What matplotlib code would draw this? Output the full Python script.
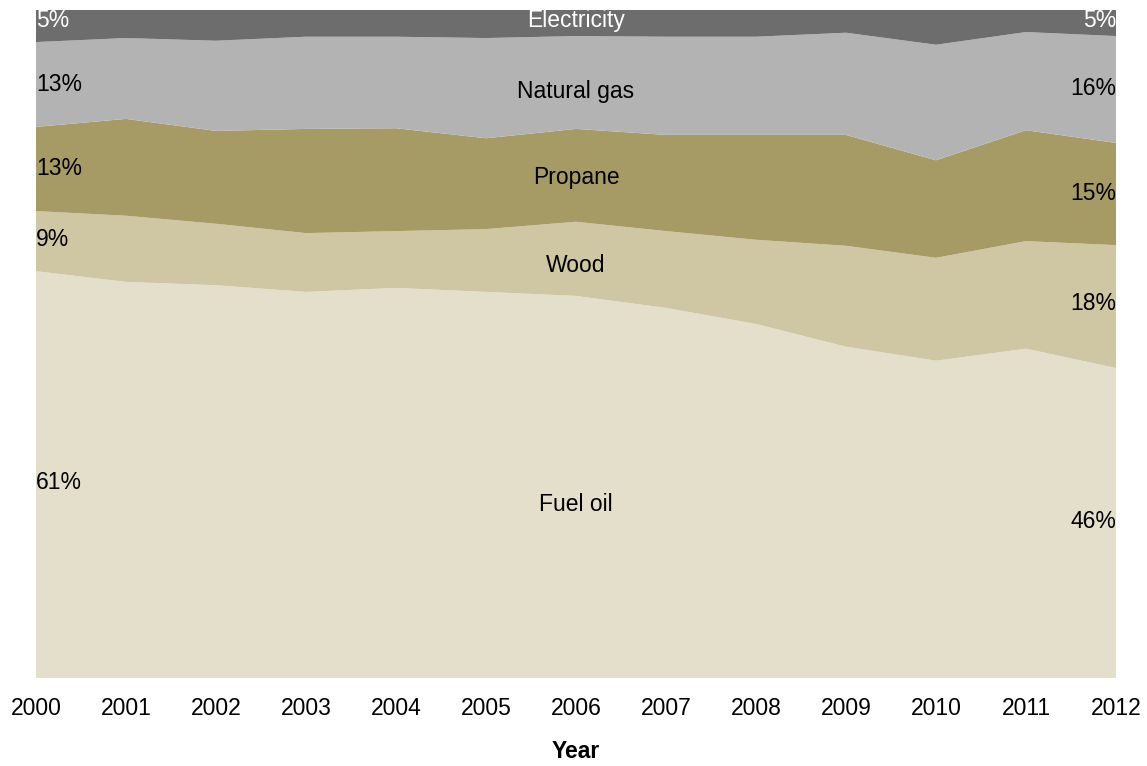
import numpy as np
import matplotlib
matplotlib.use("Agg")
import matplotlib.pyplot as plt

plt.rcParams['font.family'] = ['Liberation Sans', 'DejaVu Sans']

years = list(range(2000, 2013))
fuel_oil = [60.9, 59.3, 58.8, 57.8, 58.4, 57.8, 57.2, 55.4, 53.0, 49.6, 47.5, 49.3, 46.4]
wood = [9.0, 9.9, 9.2, 8.8, 8.5, 9.4, 11.1, 11.5, 12.6, 15.1, 15.4, 16.1, 18.4]
propane = [12.6, 14.5, 13.9, 15.6, 15.4, 13.6, 13.9, 14.4, 15.7, 16.6, 14.6, 16.6, 15.3]
natural_gas = [12.7, 12.1, 13.5, 13.8, 13.7, 15.0, 13.9, 14.7, 14.7, 15.3, 17.3, 14.7, 16.0]
electricity = [4.8, 4.2, 4.6, 4.0, 4.0, 4.2, 3.9, 4.0, 4.0, 3.4, 5.2, 3.3, 3.9]

names = ["Fuel oil", "Wood", "Propane", "Natural gas", "Electricity"]
left_labels = ["61%", "9%", "13%", "13%", "5%"]
right_labels = ["46%", "18%", "15%", "16%", "5%"]
colors = ["#e3dfca", "#cfc6a3", "#a69b65", "#b3b3b3", "#6d6d6d"]

# label heights in percent
name_y = [26.0, 61.8, 74.9, 87.8, 98.4]
left_y = [29.3, 65.6, 76.3, 88.8, 98.4]
right_y = [23.5, 56.1, 72.5, 88.3, 98.4]

fs = 16.5
fig = plt.figure(figsize=(11.47, 7.66), dpi=100)
ax = fig.add_axes([36 / 1147, 88 / 766, 1080 / 1147, 668 / 766])
ax.stackplot(years, fuel_oil, wood, propane, natural_gas, electricity,
             colors=colors, linewidth=0)
ax.set_xlim(2000, 2012)
ax.set_ylim(0, 100)
ax.set_yticks([])
ax.set_xticks(years)
ax.tick_params(axis="x", length=0, labelsize=fs, pad=14)
for s in ax.spines.values():
    s.set_visible(False)
ax.set_xlabel("Year", fontsize=fs, fontweight="bold", labelpad=14)

for i, n in enumerate(names):
    c = "white" if n == "Electricity" else "black"
    ax.text(2006, name_y[i], n, ha="center", va="center", fontsize=fs, color=c)
    ax.text(2000, left_y[i], left_labels[i], ha="left", va="center", fontsize=fs,
            color=c)
    ax.text(2012, right_y[i], right_labels[i], ha="right", va="center", fontsize=fs,
            color=c)

fig.savefig("out.png", dpi=100)
